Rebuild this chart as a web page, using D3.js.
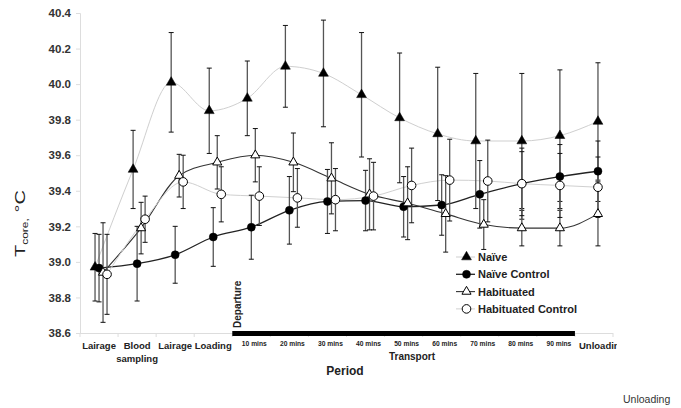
<!DOCTYPE html>
<html><head><meta charset="utf-8">
<script src="https://cdn.jsdelivr.net/npm/d3@7"></script>
<style>
html,body{margin:0;padding:0;background:#fff;}
svg{display:block;font-family:"Liberation Sans",Arial,sans-serif;}
</style></head>
<body>
<svg id="chart" width="681" height="408"></svg>
<script>
const categories = ["Lairage","Blood sampling","Lairage","Loading","10 mins","20 mins","30 mins","40 mins","50 mins","60 mins","70 mins","80 mins","90 mins","Unloading"];
const seriesNames = ["Naïve","Naïve Control","Habituated","Habituated Control"];
const naive      = [38.97,39.52,40.01,39.85,39.92,40.10,40.06,39.94,39.81,39.72,39.68,39.68,39.71,39.79];
const naiveSE    = [0.19,0.22,0.28,0.24,0.21,0.23,0.30,0.35,0.365,0.375,0.38,0.38,0.37,0.33];
const naiveCtl   = [38.965,38.99,39.04,39.14,39.195,39.29,39.34,39.345,39.31,39.32,39.38,39.44,39.48,39.51];
const naiveCtlSE = [0.19,0.21,0.16,0.165,0.18,0.19,0.18,0.17,0.17,0.17,0.19,0.20,0.18,0.17];
const habit      = [38.94,39.19,39.485,39.56,39.60,39.56,39.47,39.38,39.33,39.27,39.21,39.19,39.19,39.27];
const habitSE    = [0.28,0.145,0.12,0.15,0.15,0.165,0.20,0.20,0.205,0.215,0.14,0.10,0.10,0.18];
const habitCtl   = [38.93,39.24,39.45,39.38,39.37,39.36,39.35,39.37,39.43,39.46,39.455,39.44,39.43,39.42];
const habitCtlSE = [0.225,0.13,0.15,0.155,0.165,0.165,0.175,0.19,0.21,0.23,0.23,0.18,0.18,0.17];
const yTicks = [38.6,38.8,39.0,39.2,39.4,39.6,39.8,40.0,40.2,40.4];
const transportCats = [4,5,6,7,8,9,10,11,12];

const svg = d3.select("#chart");
const x = d3.scaleBand().domain(d3.range(categories.length)).range([80,613]).padding(0);
const y = d3.scaleLinear().domain([38.6,40.4]).range([333,13]);

// axes
const yAxis = d3.axisLeft(y).tickValues(yTicks).tickFormat(d3.format(".1f")).tickSize(4).tickPadding(5);
const gy = svg.append("g").attr("transform","translate(80,0)").call(yAxis);
gy.select(".domain").attr("stroke","#ddd");
gy.selectAll(".tick line").attr("stroke","#ddd");
gy.selectAll(".tick text").attr("font-size","11.5px").attr("font-weight","bold").attr("fill","#333").attr("font-family","Liberation Sans, Arial, sans-serif");

// x axis line and boundary ticks
const bounds = d3.range(categories.length+1).map(i => 80 + i*x.bandwidth());
svg.append("line").attr("x1",80).attr("x2",613).attr("y1",333.5).attr("y2",333.5).attr("stroke","#ddd");
svg.selectAll(".xb").data(bounds).enter().append("line")
  .attr("x1",d=>d).attr("x2",d=>d).attr("y1",333).attr("y2",337).attr("stroke","#ddd");
// transport bar
svg.append("rect").attr("x",x(transportCats[0])).attr("y",331)
  .attr("width",x(transportCats[transportCats.length-1])+x.bandwidth()-x(transportCats[0])).attr("height",5).attr("fill","#000");

// x labels
const cx = i => x(i) + x.bandwidth()/2;
categories.forEach((c,i) => {
  if (transportCats.includes(i)) {
    svg.append("text").attr("x",cx(i)+3).attr("y",346).attr("text-anchor","middle")
      .attr("font-size","6.7px").attr("font-weight","bold").attr("fill","#222").text(c);
  } else if (i === categories.length-1) {
    svg.append("clipPath").attr("id","clipU").append("rect").attr("x",560).attr("y",330).attr("width",57).attr("height",30);
    svg.append("text").attr("x",579).attr("y",349).attr("clip-path","url(#clipU)")
      .attr("font-size","9.5px").attr("font-weight","bold").attr("fill","#222").text(c);
  } else {
    const parts = c === "Blood sampling" ? ["Blood","sampling"] : [c];
    parts.forEach((p,k) => {
      svg.append("text").attr("x",cx(i)).attr("y",349+k*12.5).attr("text-anchor","middle")
        .attr("font-size","9.5px").attr("font-weight","bold").attr("fill","#222").text(p);
    });
  }
});
svg.append("text").attr("x",412).attr("y",360).attr("text-anchor","middle")
  .attr("font-size","10px").attr("font-weight","bold").attr("fill","#222").text("Transport");
svg.append("text").attr("x",345).attr("y",375).attr("text-anchor","middle")
  .attr("font-size","12px").attr("font-weight","bold").attr("fill","#222").text("Period");
svg.append("text").attr("x",623).attr("y",403)
  .attr("font-size","10.5px").attr("fill","#333").text("Unloading");
svg.append("text").attr("transform",`translate(241,328) rotate(-90)`)
  .attr("font-size","10px").attr("font-weight","bold").attr("fill","#222").text("Departure");

// y title
const yt = svg.append("text").attr("transform","translate(25,257) rotate(-90) scale(1,0.72)")
  .attr("font-size","20px").attr("fill","#222");
yt.append("tspan").text("T");
yt.append("tspan").attr("font-size","12px").attr("dy","4").text("core,");
yt.append("tspan").attr("dy","-4").text(" °C");

// series
const series = [
  {name:seriesNames[0], v:naive, se:naiveSE, off:-4, line:"#cfcfcf", lw:1, sym:"tri", fill:"#000"},
  {name:seriesNames[1], v:naiveCtl, se:naiveCtlSE, off:0, line:"#222", lw:1.3, sym:"circ", fill:"#000"},
  {name:seriesNames[2], v:habit, se:habitSE, off:4, line:"#333", lw:1.1, sym:"tri", fill:"#fff"},
  {name:seriesNames[3], v:habitCtl, se:habitCtlSE, off:8, line:"#d0d0d0", lw:1, sym:"circ", fill:"#fff"}
];
const px = (s,i) => cx(i) + (i >= 11 ? 4 : s.off);

const gLines = svg.append("g"), gErr = svg.append("g"), gPts = svg.append("g");
series.forEach(s => {
  const line = d3.line().x((d,i)=>px(s,i)).y(d=>y(d)).curve(d3.curveMonotoneX);
  gLines.append("path").datum(s.v).attr("d",line).attr("fill","none").attr("stroke",s.line).attr("stroke-width",s.lw);
});
series.forEach(s => {
  s.v.forEach((v,i) => {
    const xx = px(s,i), t = y(v+s.se[i]), b = y(v-s.se[i]);
    gErr.append("line").attr("x1",xx).attr("x2",xx).attr("y1",t).attr("y2",b).attr("stroke","#555").attr("stroke-width",1.3);
    [t,b].forEach(yy => gErr.append("line").attr("x1",xx-2.5).attr("x2",xx+2.5).attr("y1",yy).attr("y2",yy).attr("stroke","#111").attr("stroke-width",1));
  });
});
const triSym = d3.symbol().type(d3.symbolTriangle);
function drawSym(g, s, xx, yy) {
  if (s.sym === "tri") {
    g.append("path").attr("d",triSym.size(s.fill==="#000"?42:36)()).attr("transform",`translate(${xx},${yy})`)
      .attr("fill",s.fill).attr("stroke","#000").attr("stroke-width",s.fill==="#000"?0.5:1);
  } else {
    g.append("circle").attr("cx",xx).attr("cy",yy).attr("r",s.fill==="#000"?4:4.3)
      .attr("fill",s.fill).attr("stroke","#000").attr("stroke-width",s.fill==="#000"?0.5:1);
  }
}
series.forEach(s => s.v.forEach((v,i) => drawSym(gPts, s, px(s,i), y(v))));

// legend
const lg = svg.append("g");
series.forEach((s,k) => {
  const ly = 257 + k*17.3;
  lg.append("line").attr("x1",456).attr("x2",475).attr("y1",ly).attr("y2",ly).attr("stroke",s.line).attr("stroke-width",s.lw);
  drawSym(lg, s, 466.5, ly);
  lg.append("text").attr("x",478).attr("y",ly+4).attr("font-size","11px").attr("font-weight","bold").attr("fill","#222").text(s.name);
});
</script>
</body></html>
